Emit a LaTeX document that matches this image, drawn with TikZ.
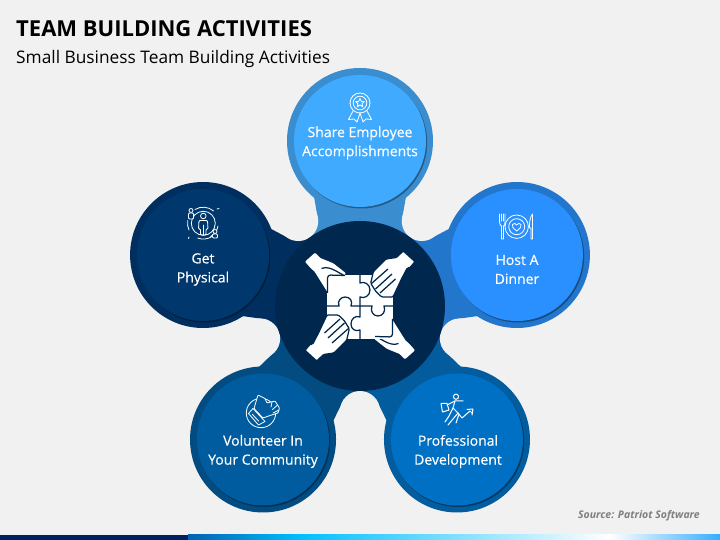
\documentclass[tikz,border=0pt]{standalone}
\usepackage{fontspec}
\setmainfont{Open Sans}
\newfontface\capfont[FakeBold=0.35]{Open Sans}
\usetikzlibrary{calc}
\usetikzlibrary{shadows}
\definecolor{pagebg}{RGB}{241,241,241}
\definecolor{hubblue}{RGB}{0,39,77}
\definecolor{shareface}{RGB}{64,170,255}
\definecolor{sharering}{RGB}{58,141,206}
\definecolor{dinnerface}{RGB}{42,144,255}
\definecolor{dinnerring}{RGB}{34,118,204}
\definecolor{devface}{RGB}{0,112,196}
\definecolor{devring}{RGB}{2,92,158}
\definecolor{volface}{RGB}{0,92,158}
\definecolor{volring}{RGB}{2,76,130}
\definecolor{getface}{RGB}{0,56,110}
\definecolor{getring}{RGB}{0,47,95}
\definecolor{srcgrey}{RGB}{127,127,127}
\definecolor{barnavy}{RGB}{0,32,96}
\tikzset{
    ring/.style={circle, inner sep=0pt, minimum size=146pt},
    face/.style={circle, inner sep=0pt, minimum size=132pt, drop shadow={shadow xshift=1.2pt, shadow yshift=-1.5pt, opacity=.35, fill=black}},
    lobe/.style={circle, inner sep=0pt, fill=pagebg, minimum size=40pt},
    caption/.style={text=white, align=center, font=\capfont\fontsize{14}{19}\selectfont},
    glyph/.style={draw=white, line width=.8pt, line join=round, line cap=round},
    cut/.style={draw=hubblue, line width=1.25pt, line join=round},
    pix/.style={yscale=-1, shift={(0,-540)}}
}
% one band from the hub out to a circle, between two lobes
\newcommand\band[2]{
    \fill[#2, shift={(hub-pos)}, rotate=#1] (0,0) -- (84.9,-61.7) -- (84.9,-41.7) -- (115,-47) -- (165,0) -- (115,47) -- (84.9,41.7) -- (84.9,61.7) -- cycle;
}
\newcommand\fingerhand[1]{
    \begin{scope}[shift={(hub-pos)}, yscale=-1, rotate=#1]
        \filldraw[fill=white, cut, rounded corners=1.2pt] (43.3,-55) -- (55,-44.3) -- (49.3,-37.7) -- (47.5,-38.5) -- (41.5,-27) -- (33,-9) -- (21.7,-9) -- (16,-14.3) -- (10.7,-22.7) -- (13.3,-34.3) -- (26,-47) -- (36.5,-48.5) -- (38,-50) -- cycle;
        \draw[cut] (11.5,-22.5) -- (28,-37) (15.5,-17) -- (32,-32) (20,-13) -- (35.5,-27);
    \end{scope}
}
\newcommand\thumbhand[1]{
    \begin{scope}[shift={(hub-pos)}, yscale=-1, rotate=#1]
        \fill[white, rounded corners=1pt] (-55,-44.3) -- (-45,-53.3) -- (-39.3,-47.7) -- (-36,-46.5) -- (-26.7,-42.7) -- (-14,-32.7) -- (-17.3,-29.3) -- (-20,-20) -- (-32,-13) -- (-45.5,-34.5) -- (-49,-37.5) -- cycle;
        \draw[cut] (-38.5,-37.5) .. controls (-31,-40) and (-26,-36) .. (-15,-30);
    \end{scope}
}
\begin{document}
\begin{tikzpicture}[x=1pt, y=1pt]
    \useasboundingbox (0,0) rectangle (720,540);
    \fill[pagebg] (0,0) rectangle (720,540);

    \path
        (360,234) coordinate (hub-pos)
        +(90:165) coordinate (share-pos)
        +(18:165) coordinate (dinner-pos)
        +(-54:165) coordinate (dev-pos)
        +(234:165) coordinate (vol-pos)
        +(162:165) coordinate (get-pos)
        +(54:105) coordinate (lobe-a-pos)
        +(-18:105) coordinate (lobe-b-pos)
        +(270:105) coordinate (lobe-c-pos)
        +(198:105) coordinate (lobe-d-pos)
        +(126:105) coordinate (lobe-e-pos);

    \band{90}{sharering}
    \band{18}{dinnerring}
    \band{-54}{devring}
    \band{234}{volring}
    \band{162}{getring}

    \path
        (lobe-a-pos) node[lobe] (lobe-a) {}
        (lobe-b-pos) node[lobe] (lobe-b) {}
        (lobe-c-pos) node[lobe] (lobe-c) {}
        (lobe-d-pos) node[lobe] (lobe-d) {}
        (lobe-e-pos) node[lobe] (lobe-e) {};

    \path
        (share-pos) node[ring, fill=sharering] (share-ring) {} node[face, fill=shareface] (share) {}
        (dinner-pos) node[ring, fill=dinnerring] (dinner-ring) {} node[face, fill=dinnerface] (dinner) {}
        (dev-pos) node[ring, fill=devring] (dev-ring) {} node[face, fill=devface] (dev) {}
        (vol-pos) node[ring, fill=volring] (vol-ring) {} node[face, fill=volface] (vol) {}
        (get-pos) node[ring, fill=getring] (get-ring) {} node[face, fill=getface] (get) {}
        (hub-pos) node[circle, inner sep=0pt, minimum size=170pt, fill=hubblue] (hub) {};

    \path
        (360,397) node[caption] (share-text) {Share Employee\\Accomplishments}
        (517,270.5) node[caption] (dinner-text) {Host A\\Dinner}
        (458,88.5) node[caption] (dev-text) {Professional\\Development}
        (263,88.5) node[caption] (vol-text) {Volunteer In\\Your Community}
        (203,270.5) node[caption] (get-text) {Get\\Physical};

    \path
        (16,511) node[anchor=west, inner sep=0pt, font=\fontsize{22}{26}\selectfont\bfseries] (title) {TEAM BUILDING ACTIVITIES}
        (16,480.5) node[anchor=west, inner sep=0pt, font=\fontsize{17.3}{21}\selectfont] (subtitle) {Small Business Team Building Activities}
        (700,24) node[anchor=east, inner sep=0pt, text=srcgrey, font=\fontsize{10.5}{12}\selectfont\bfseries\itshape] (source) {Source: Patriot Software};

    % bottom strip
    \fill[barnavy] (0,0) rectangle (188,5);
    \shade[left color=blue!45!cyan!70!black, right color=cyan!75!blue] (188,0) rectangle (300,5);
    \shade[left color=cyan!75!blue, right color=white] (300,0) rectangle (610,5);
    \shade[left color=white, right color=cyan!60!blue!80] (610,0) rectangle (720,5);

    % puzzle and hands
    \thumbhand{0}
    \thumbhand{180}
    \begin{scope}[pix]
        \fill[white] (327,275) rectangle (393,339);
        \draw[cut] (360,275) -- (360,283) .. controls (364,281) and (370,284) .. (370,290) .. controls (370,296) and (364,299) .. (360,297) -- (360,306);
        \draw[cut] (327,306) -- (339,306) .. controls (337,301) and (341,297) .. (345,297) .. controls (350,297) and (353,301) .. (351,306) -- (360,306);
        \draw[cut] (360,306) -- (372,306) .. controls (370,311) and (373,316) .. (378,316) .. controls (383,316) and (386,311) .. (384,306) -- (393,306);
        \draw[cut] (360,306) -- (360,317) .. controls (355,315) and (351,319) .. (351,324) .. controls (351,329) and (355,332) .. (360,330) -- (360,339);
    \end{scope}
    \begin{scope}[shift={(hub-pos)}, yscale=-1]
        \draw[cut, rounded corners=3pt] (-15,-30.5) -- (-32.5,-31) -- (-32.5,-13);
        \draw[cut, rounded corners=3pt] (15,30.5) -- (32.5,31) -- (32.5,13);
    \end{scope}
    \fingerhand{0}
    \fingerhand{180}

    % badge
    \begin{scope}[pix]
        \draw[glyph] (360,103) circle (10) (360,103) circle (6.8);
        \draw[glyph] (360,98.5) -- (361.3,101.5) -- (364.4,101.7) -- (362,103.7) -- (362.8,106.8) -- (360,105) -- (357.2,106.8) -- (358,103.7) -- (355.6,101.7) -- (358.7,101.5) -- cycle;
        \draw[glyph] (353,111) -- (348.5,119.5) -- (354,119) -- (357,122) -- (360,113);
        \draw[glyph] (367,111) -- (371.5,119.5) -- (366,119) -- (363,122) -- (360,113);

        % person ring
        \draw[glyph] (203.3,223.3) circle (12);
        \draw[glyph] (195,209.5) arc (-121:-50:16) (218,226) arc (10:60:15) (212,236.5) arc (57:110:16) (189,230) arc (155:190:16);
        \draw[glyph] (203.3,216) circle (2.8);
        \draw[glyph, rounded corners=1pt] (199,220.5) -- (207.5,220.5) -- (208,229) -- (206,229) -- (206,235) -- (200.5,235) -- (200.5,229) -- (198.5,229) -- cycle;
        \draw[glyph] (203.3,225) -- (203.3,235);
        \draw[glyph, fill=getface] (191,210.5) circle (2) (215,231.5) circle (2);
        \draw[glyph, fill=getface, rounded corners=1pt] (188.5,213) -- (193.5,213) -- (193.5,219) -- (188.5,219) -- cycle (212.5,234) -- (217.5,234) -- (217.5,238) -- (212.5,238) -- cycle;
        \draw[glyph] (217,209) -- (219,208.5) (189,237) -- (188.5,238.5);

        % plate
        \draw[glyph] (516.7,226.7) circle (11.7) (516.7,226.7) circle (8);
        \draw[glyph] (516.7,231) .. controls (513,228) and (511.5,226.5) .. (512.5,224.5) .. controls (513.5,223) and (516,223) .. (516.7,225) .. controls (517.4,223) and (520,223) .. (521,224.5) .. controls (522,226.5) and (520.4,228) .. (516.7,231) -- cycle;
        \draw[glyph] (499.5,214) -- (499.5,222) .. controls (499.5,225) and (501,226) .. (501.5,226) -- (501.5,239) -- (503.5,239) -- (503.5,226) .. controls (504.5,226) and (505,225) .. (505,222) -- (505,214);
        \draw[glyph] (501.5,214) -- (501.5,221) (503,214) -- (503,221);
        \draw[glyph] (532.5,214) .. controls (530,217) and (529,224) .. (529.5,228) -- (531,228) -- (531,239) -- (532.5,239) -- cycle;

        % thumb up
        \draw[glyph] (261,413) circle (14.7);
        \draw[glyph, fill=volface, rounded corners=.8pt] (258,395) -- (265,398.5) -- (267,403) -- (275,401) -- (279.5,408) -- (278,413) -- (270,415.5) -- (263,418) -- (254,408.5) -- cycle;
        \draw[glyph, fill=volface] (253,408.5) -- (265,421.5) -- (258.5,425) -- (248.5,413.5) -- cycle;
        \draw[glyph] (252.5,414.5) -- (258.5,421);
        \draw[glyph] (272,402) -- (271,407) (277,405.5) -- (272.5,409.5) (279,410) -- (273,413);

        % runner
        \draw[glyph, line width=1pt] (456,396.7) circle (2.6);
        \draw[glyph, line width=1pt] (441,403.5) -- (447,403.5) -- (449,410) -- (442.5,412) -- cycle (447,405) -- (455,401) -- (463,401);
        \draw[glyph, line width=1pt] (455,401) -- (453,408) -- (449,416) -- (445,422);
        \draw[glyph, line width=1pt] (453,408) -- (459,414) -- (456,423);
        \draw[glyph, line width=1pt] (448,425) -- (458,413) -- (462,418) -- (470,411) -- (472,413);
        \draw[glyph, line width=1pt] (467,409.5) -- (473,409) -- (472,415);
    \end{scope}
\end{tikzpicture}
\end{document}
